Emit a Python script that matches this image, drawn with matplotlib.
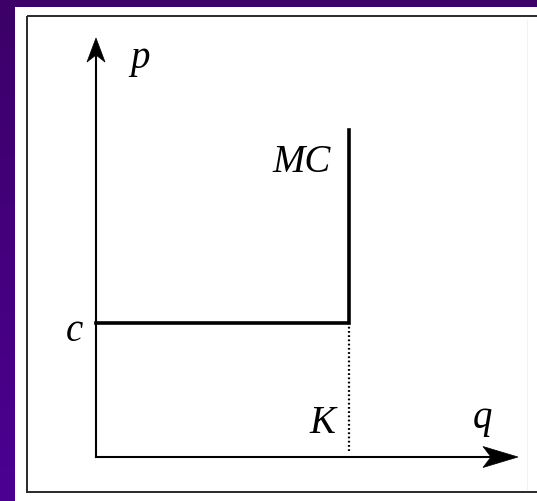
"""
MC curve with capacity constraint (reproduction)
"""
import numpy as np
import matplotlib
matplotlib.use('Agg')
import matplotlib.pyplot as plt
from matplotlib.patches import Rectangle, Polygon

# chart values (data units of the p-q diagram)
q_max = 10.0
p_max = 10.0
c_level = 3.2        # constant marginal cost
K_cap = 6.0          # capacity
mc_top = 7.8         # top of vertical MC segment
dot_bottom = 0.15    # lower end of dotted line at K

# labels: (text, q, p, horizontal alignment)
labels = [
    ("p", 0.81, 9.28, "left"),
    ("MC", 4.17, 6.80, "left"),
    ("c", -0.31, 2.77, "right"),
    ("K", 5.66, 0.57, "right"),
    ("q", 8.93, 0.69, "left"),
]

W, H = 537, 501
fig = plt.figure(figsize=(W / 100, H / 100), dpi=100)

# background in pixel coordinates
bg = fig.add_axes([0, 0, 1, 1])
bg.set_xlim(0, W)
bg.set_ylim(H, 0)
bg.axis('off')
top = np.array([60, 0, 104]) / 255
bot = np.array([76, 0, 146]) / 255
grad = np.linspace(0, 1, 256)[:, None, None]
img = top + (bot - top) * grad
bg.imshow(np.repeat(img, 2, axis=1), extent=[0, W, H, 0], aspect='auto')
bg.add_patch(Rectangle((15, 7), W - 15, H - 7, facecolor='white', edgecolor='none'))
bg.add_patch(Rectangle((27, 16), W + 20, 476, facecolor='none',
                       edgecolor='#2a2a2a', lw=1.4))
bg.plot([527, 527], [20, 490], color='#f2f2f2', lw=0.8)

# main diagram axes: origin at (96, 457) px, q tip at 518, p tip at 38
x0, y0, x1, y1 = 96, 457, 518, 38
ax = fig.add_axes([x0 / W, (H - y0) / H, (x1 - x0) / W, (y0 - y1) / H])
ax.set_xlim(0, q_max)
ax.set_ylim(0, p_max)
ax.patch.set_alpha(0)
for s in ax.spines.values():
    s.set_visible(False)
ax.set_xticks([])
ax.set_yticks([])

# axes with stealth arrowheads
ax.plot([0, 0.97], [0, 0], transform=ax.transAxes, color='black', lw=1.5, clip_on=False)
ax.plot([0, 0], [0, 0.97], transform=ax.transAxes, color='black', lw=1.5, clip_on=False)
wq, hq = 1.0 / (x1 - x0), 1.0 / (y0 - y1)
head_x = [(1, 0), (1 - 35 * wq, 10.5 * hq), (1 - 27 * wq, 0), (1 - 35 * wq, -10.5 * hq)]
head_y = [(0, 1), (9 * wq, 1 - 24 * hq), (0, 1 - 17 * hq), (-9 * wq, 1 - 24 * hq)]
for h in (head_x, head_y):
    ax.add_patch(Polygon(h, closed=True, transform=ax.transAxes,
                         facecolor='black', edgecolor='black', lw=0.5, clip_on=False))

# MC curve: flat at c up to K, then vertical
ax.plot([0, K_cap, K_cap], [c_level, c_level, mc_top], color='black', lw=2.6,
        solid_joinstyle='miter', clip_on=False)
ax.plot([K_cap, K_cap], [dot_bottom, c_level], color='black', lw=1.6,
        linestyle=(0, (0.8, 1.1)), clip_on=False)

for txt, qx, py, ha in labels:
    ax.text(qx, py, txt, ha=ha, va='baseline', fontsize=28, style='italic',
            family=['Liberation Serif', 'DejaVu Serif'], clip_on=False)

fig.savefig('out.png', dpi=100)
